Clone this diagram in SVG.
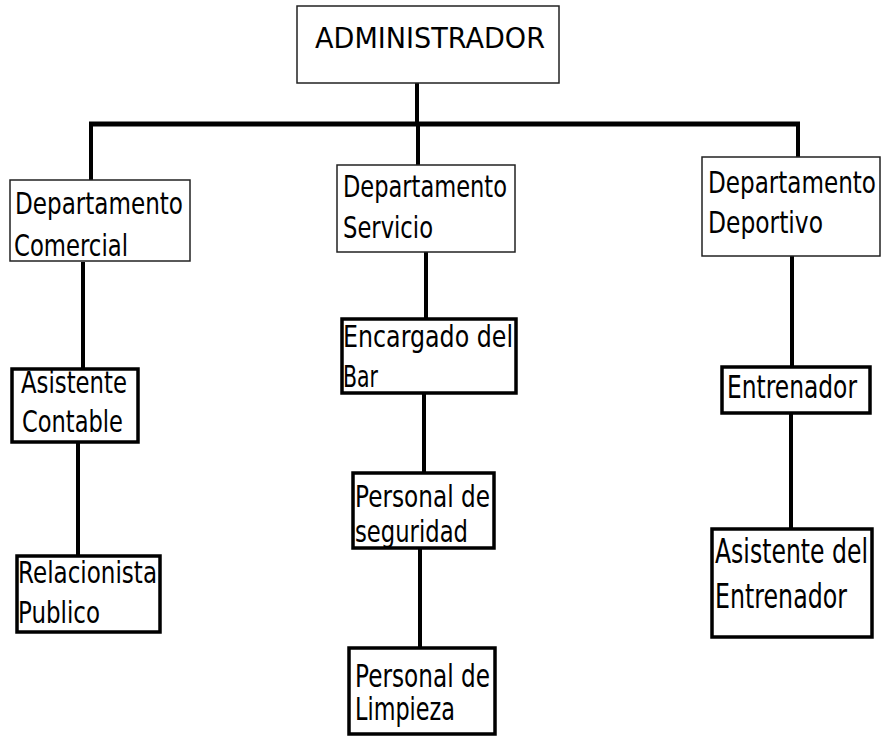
<svg xmlns="http://www.w3.org/2000/svg" width="884" height="736" viewBox="0 0 884 736">
<style>
text{font-family:"DejaVu Sans","Liberation Sans",sans-serif;font-size:31px;fill:#000}
.thin{fill:#fff;stroke:#222;stroke-width:1.5}
.thick{fill:#fff;stroke:#000;stroke-width:3.5}
.ln{fill:none;stroke:#000;stroke-width:4}
</style>
<rect width="884" height="736" fill="#fff"/>
<g id="connectors">
<path class="ln" d="M417 82V124" stroke-width="3.5"/>
<path class="ln" d="M89 124H800" style="stroke-width:5"/>
<path class="ln" d="M91 124V180"/>
<path class="ln" d="M418 124V165"/>
<path class="ln" d="M798 124V157"/>
<path class="ln" d="M83 262V369"/>
<path class="ln" d="M78 442V556"/>
<path class="ln" d="M426 252V319"/>
<path class="ln" d="M424 393V473"/>
<path class="ln" d="M420 548V648"/>
<path class="ln" d="M792 256V367"/>
<path class="ln" d="M791 413V529"/>
</g>
<g id="administrador">
<rect class="thin" x="297" y="6" width="262" height="77"/>
<text x="315" y="48" style="font-size:29px" textLength="230" lengthAdjust="spacingAndGlyphs">ADMINISTRADOR</text>
</g>
<g id="dep-comercial">
<rect class="thin" x="10" y="180" width="180" height="81"/>
<text x="15" y="214" textLength="168" lengthAdjust="spacingAndGlyphs">Departamento</text>
<text x="14" y="256" textLength="114" lengthAdjust="spacingAndGlyphs">Comercial</text>
</g>
<g id="dep-servicio">
<rect class="thin" x="337" y="165" width="178" height="87"/>
<text x="343" y="197" textLength="164" lengthAdjust="spacingAndGlyphs">Departamento</text>
<text x="343" y="238" textLength="90" lengthAdjust="spacingAndGlyphs">Servicio</text>
</g>
<g id="dep-deportivo">
<rect class="thin" x="702" y="157" width="178" height="99"/>
<text x="708" y="193" textLength="168" lengthAdjust="spacingAndGlyphs">Departamento</text>
<text x="708" y="233" textLength="115" lengthAdjust="spacingAndGlyphs">Deportivo</text>
</g>
<g id="asistente-contable">
<rect class="thick" x="12" y="369" width="126" height="73"/>
<text x="21" y="393" textLength="106" lengthAdjust="spacingAndGlyphs">Asistente</text>
<text x="22" y="432" textLength="101" lengthAdjust="spacingAndGlyphs">Contable</text>
</g>
<g id="relacionista-publico">
<rect class="thick" x="17" y="556" width="143" height="76"/>
<text x="18" y="583" textLength="139" lengthAdjust="spacingAndGlyphs">Relacionista</text>
<text x="18" y="623" textLength="82" lengthAdjust="spacingAndGlyphs">Publico</text>
</g>
<g id="encargado-bar">
<rect class="thick" x="342" y="319" width="174" height="74"/>
<text x="343" y="347" textLength="170" lengthAdjust="spacingAndGlyphs">Encargado del</text>
<text x="343" y="387" textLength="35" lengthAdjust="spacingAndGlyphs">Bar</text>
</g>
<g id="personal-seguridad">
<rect class="thick" x="353" y="473" width="141" height="75"/>
<text x="355" y="507" textLength="135" lengthAdjust="spacingAndGlyphs">Personal de</text>
<text x="355" y="542" textLength="113" lengthAdjust="spacingAndGlyphs">seguridad</text>
</g>
<g id="personal-limpieza">
<rect class="thick" x="349" y="648" width="146" height="86"/>
<text x="355" y="687" style="font-size:32px" textLength="135" lengthAdjust="spacingAndGlyphs">Personal de</text>
<text x="355" y="720" style="font-size:32px" textLength="100" lengthAdjust="spacingAndGlyphs">Limpieza</text>
</g>
<g id="entrenador">
<rect class="thick" x="722" y="367" width="148" height="46"/>
<text x="727" y="398" style="font-size:32px" textLength="130" lengthAdjust="spacingAndGlyphs">Entrenador</text>
</g>
<g id="asistente-entrenador">
<rect class="thick" x="712" y="529" width="160" height="108"/>
<text x="715" y="563" style="font-size:33px" textLength="153" lengthAdjust="spacingAndGlyphs">Asistente del</text>
<text x="715" y="608" style="font-size:33px" textLength="132" lengthAdjust="spacingAndGlyphs">Entrenador</text>
</g>
</svg>
